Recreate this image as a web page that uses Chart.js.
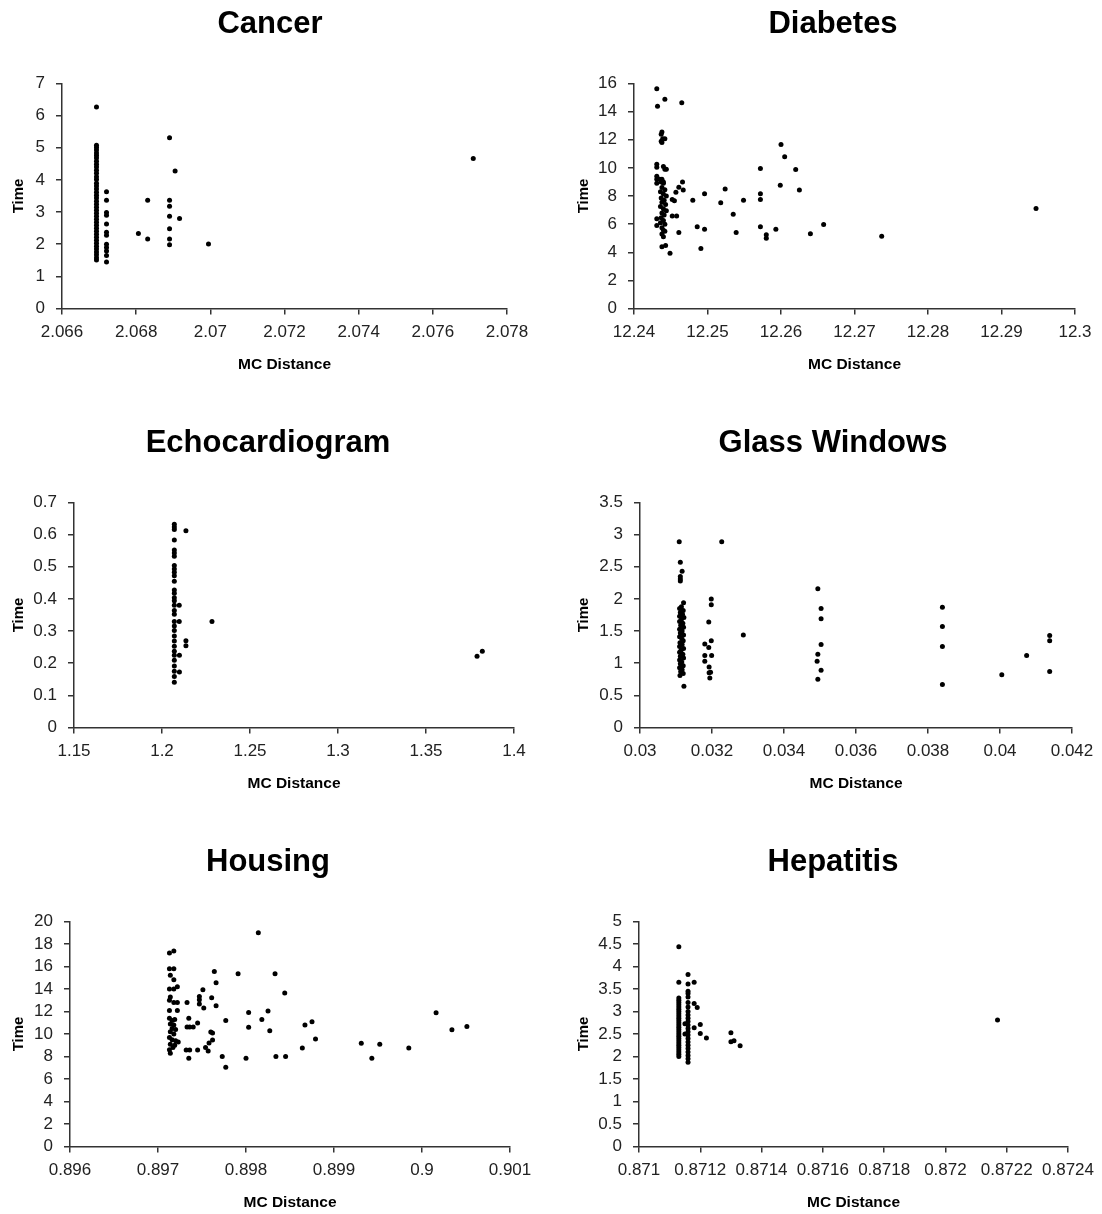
<!DOCTYPE html>
<html>
<head>
<meta charset="utf-8">
<script src="https://cdn.jsdelivr.net/npm/chart.js@4.4.1/dist/chart.umd.min.js"></script>
<style>
  html, body { margin: 0; padding: 0; background: #fff; overflow: hidden; }
  #page { position: relative; width: 1102px; height: 1214px; }
  .cell { position: absolute; width: 551px; height: 376px; }
</style>
</head>
<body>
<div id="page">
  <div class="cell" style="left:0;top:0"><canvas id="c-cancer"></canvas></div>
  <div class="cell" style="left:551px;top:0"><canvas id="c-diabetes"></canvas></div>
  <div class="cell" style="left:0;top:419px"><canvas id="c-echo"></canvas></div>
  <div class="cell" style="left:551px;top:419px"><canvas id="c-glass"></canvas></div>
  <div class="cell" style="left:0;top:838px"><canvas id="c-housing"></canvas></div>
  <div class="cell" style="left:551px;top:838px"><canvas id="c-hepatitis"></canvas></div>
</div>
<script>
// points are [MC Distance, Time]
const cancerPts = [
  [2.06693,6.27],[2.06693,5.08],[2.06693,5.01],[2.06693,4.93],[2.06693,4.84],[2.06693,4.76],[2.06693,4.68],
  [2.06693,4.58],[2.06693,4.49],[2.06693,4.40],[2.06693,4.30],[2.06693,4.21],[2.06693,4.10],[2.06693,4.01],
  [2.06693,3.90],[2.06693,3.81],[2.06693,3.72],[2.06693,3.62],[2.06693,3.52],[2.06693,3.44],[2.06693,3.34],
  [2.06693,3.24],[2.06693,3.15],[2.06693,3.06],[2.06693,2.96],[2.06693,2.87],[2.06693,2.78],[2.06693,2.68],
  [2.06693,2.59],[2.06693,2.50],[2.06693,2.40],[2.06693,2.31],[2.06693,2.22],[2.06693,2.12],[2.06693,2.03],
  [2.06693,1.94],[2.06693,1.85],[2.06693,1.76],[2.06693,1.67],[2.06693,1.58],[2.06693,1.51],
  [2.0672,3.63],[2.0672,3.37],[2.0672,2.99],[2.0672,2.90],[2.0672,2.63],[2.0672,2.37],[2.0672,2.28],
  [2.0672,2.00],[2.0672,1.90],[2.0672,1.79],[2.0672,1.65],[2.0672,1.45],
  [2.06806,2.33],[2.06831,3.37],[2.06831,2.16],[2.0689,5.31],[2.0689,3.37],[2.0689,3.18],[2.0689,2.87],
  [2.0689,2.48],[2.0689,2.16],[2.0689,1.98],[2.06905,4.28],[2.06917,2.80],[2.06995,2.01],[2.07709,4.67]
];

const diabetesPts = [
  [12.2431,15.62],[12.2432,14.38],[12.2442,14.88],[12.2465,14.64],
  [12.2438,12.55],[12.2437,12.40],[12.2439,12.07],[12.2442,12.07],[12.2437,11.90],[12.2438,11.80],
  [12.2431,10.26],[12.2431,10.05],[12.2440,10.10],[12.2442,9.90],[12.2444,9.90],
  [12.2431,9.40],[12.2431,9.20],[12.2435,9.20],[12.2437,9.00],[12.2438,9.20],[12.2440,9.00],[12.2431,8.90],[12.2440,8.90],
  [12.2438,8.60],[12.2442,8.45],[12.2436,8.30],[12.2440,8.15],[12.2444,8.00],[12.2437,7.85],[12.2441,7.70],
  [12.2438,7.55],[12.2443,7.40],[12.2436,7.25],[12.2440,7.10],[12.2444,6.95],[12.2438,6.80],[12.2441,6.65],
  [12.2431,6.38],[12.2437,6.45],[12.2440,6.25],[12.2436,6.10],[12.2442,6.00],[12.2431,5.90],[12.2438,5.75],
  [12.2440,5.57],[12.2442,5.50],[12.2438,5.30],[12.2440,5.10],[12.2438,4.40],[12.2443,4.48],[12.2449,3.93],
  [12.2452,7.76],[12.2455,7.67],[12.2452,6.57],[12.2458,6.57],[12.2461,5.40],[12.2457,8.26],[12.2461,8.62],
  [12.2466,9.00],[12.2467,8.43],
  [12.2480,7.69],[12.2486,5.81],[12.2491,4.26],[12.2496,8.16],[12.2496,5.64],[12.2518,7.52],[12.2524,8.50],
  [12.2535,6.71],[12.2539,5.40],[12.2549,7.69],[12.2572,9.96],[12.2572,8.16],[12.2572,7.76],[12.2572,5.81],
  [12.2580,5.24],[12.2580,5.00],[12.2593,5.64],[12.2599,8.76],[12.2600,11.67],[12.2605,10.79],[12.2620,9.88],
  [12.2625,8.43],[12.2640,5.31],[12.2658,5.98],[12.2737,5.14],[12.2947,7.12]
];

const echoPts = [
  [1.2070,0.632],[1.2070,0.624],[1.2070,0.616],[1.2070,0.583],[1.2070,0.552],[1.2070,0.543],[1.2070,0.533],
  [1.2070,0.504],[1.2070,0.493],[1.2070,0.483],[1.2070,0.472],[1.2070,0.455],[1.2070,0.428],[1.2070,0.418],
  [1.2070,0.404],[1.2070,0.394],[1.2070,0.380],[1.2070,0.364],[1.2070,0.352],[1.2070,0.330],[1.2070,0.316],
  [1.2070,0.302],[1.2070,0.285],[1.2070,0.269],[1.2070,0.253],[1.2070,0.237],[1.2070,0.225],[1.2070,0.209],
  [1.2070,0.191],[1.2070,0.175],[1.2070,0.159],[1.2070,0.141],
  [1.2136,0.612],[1.2098,0.380],[1.2098,0.330],[1.2284,0.330],[1.2136,0.270],[1.2136,0.254],
  [1.2099,0.225],[1.2099,0.173],[1.3790,0.222],[1.3820,0.237]
];

const glassPts = [
  [0.03109,2.89],[0.03112,2.57],[0.03117,2.43],[0.03112,2.35],[0.03112,2.31],[0.03112,2.28],[0.03121,1.94],
  [0.03115,1.88],[0.03110,1.85],[0.03120,1.82],[0.03112,1.79],[0.03118,1.76],[0.03110,1.73],[0.03122,1.71],
  [0.03115,1.68],[0.03110,1.65],[0.03119,1.62],[0.03113,1.59],[0.03121,1.56],[0.03110,1.53],[0.03117,1.50],
  [0.03112,1.47],[0.03121,1.44],[0.03110,1.41],[0.03116,1.38],[0.03120,1.35],[0.03111,1.32],[0.03117,1.29],
  [0.03110,1.26],[0.03121,1.23],[0.03114,1.20],[0.03110,1.17],[0.03119,1.14],[0.03112,1.11],[0.03121,1.08],
  [0.03110,1.05],[0.03116,1.02],[0.03112,0.99],[0.03120,0.96],[0.03110,0.93],[0.03117,0.90],[0.03113,0.87],
  [0.03120,0.84],[0.03111,0.81],[0.03122,0.64],
  [0.03180,1.30],[0.03180,1.12],[0.03180,1.03],[0.03191,1.64],[0.03191,1.245],[0.03192,0.94],[0.03192,0.85],
  [0.03194,0.77],[0.03196,0.86],[0.03198,2.00],[0.03198,1.91],[0.03198,1.35],[0.03199,1.12],
  [0.03227,2.89],[0.03287,1.44],
  [0.03494,2.16],[0.03503,1.85],[0.03503,1.69],[0.03503,1.29],[0.03494,1.14],[0.03492,1.03],[0.03503,0.89],[0.03494,0.75],
  [0.03840,1.87],[0.03840,1.57],[0.03840,1.26],[0.03840,0.67],
  [0.04005,0.82],[0.04074,1.12],[0.04138,1.43],[0.04138,1.35],[0.04138,0.87]
];

const housingPts = [
  [0.89713,17.19],[0.89718,17.37],[0.89713,15.79],[0.89718,15.79],[0.89714,15.23],[0.89718,14.82],
  [0.89713,14.00],[0.89718,14.00],[0.89722,14.20],[0.89714,13.30],[0.89713,13.00],[0.89718,12.80],
  [0.89722,12.80],[0.89713,12.10],[0.89722,12.10],[0.89713,11.40],[0.89716,11.20],[0.89719,11.30],
  [0.89714,10.90],[0.89718,10.80],[0.89716,10.50],[0.89720,10.40],[0.89714,10.20],[0.89718,10.00],
  [0.89713,9.70],[0.89716,9.50],[0.89720,9.40],[0.89723,9.30],[0.89714,9.10],[0.89719,9.00],
  [0.89713,8.60],[0.89717,8.80],[0.89714,8.30],
  [0.89733,12.81],[0.89735,11.39],[0.89733,10.62],[0.89736,10.62],[0.89740,10.62],[0.89732,8.58],
  [0.89736,8.58],[0.89735,7.84],[0.89745,8.58],[0.89745,10.97],[0.89747,13.34],[0.89747,13.04],
  [0.89747,12.66],[0.89751,13.93],[0.89752,12.31],[0.89761,13.22],[0.89760,10.18],[0.89762,10.10],
  [0.89762,9.47],[0.89758,9.20],[0.89754,8.80],[0.89757,8.50],[0.89764,15.56],[0.89766,14.55],
  [0.89766,12.51],[0.89773,7.99],[0.89777,11.21],[0.89777,7.04],[0.89791,15.35],[0.89800,7.84],
  [0.89803,11.92],[0.89803,10.59],[0.89814,18.99],[0.89818,11.30],[0.89825,12.04],[0.89827,10.29],
  [0.89833,15.35],[0.89834,7.99],[0.89844,13.64],[0.89845,7.99],[0.89864,8.76],[0.89867,10.80],
  [0.89875,11.09],[0.89879,9.56],[0.89931,9.17],[0.89943,7.84],[0.89952,9.08],[0.89985,8.76],
  [0.90016,11.89],[0.90034,10.38],[0.90051,10.67]
];

const hepatitisPts = [
  [0.87113,4.44],[0.87113,3.65],[0.87113,3.30],[0.87113,3.25],[0.87113,3.20],[0.87113,3.15],[0.87113,3.10],
  [0.87113,3.05],[0.87113,3.00],[0.87113,2.95],[0.87113,2.90],[0.87113,2.85],[0.87113,2.80],[0.87113,2.75],
  [0.87113,2.70],[0.87113,2.65],[0.87113,2.60],[0.87113,2.55],[0.87113,2.50],[0.87113,2.45],[0.87113,2.40],
  [0.87113,2.35],[0.87113,2.30],[0.87113,2.25],[0.87113,2.20],[0.87113,2.15],[0.87113,2.10],[0.87113,2.05],
  [0.87113,2.00],
  [0.87116,3.82],[0.87116,3.61],[0.87116,3.45],[0.87116,3.40],[0.87116,3.32],[0.87116,3.20],[0.87116,3.10],
  [0.87116,3.00],[0.87116,2.92],[0.87116,2.85],[0.87116,2.78],[0.87116,2.70],[0.87116,2.62],[0.87116,2.55],
  [0.87116,2.48],[0.87116,2.40],[0.87116,2.32],[0.87116,2.25],[0.87116,2.18],[0.87116,2.10],[0.87116,2.02],
  [0.87116,1.95],[0.87116,1.87],
  [0.87118,3.65],[0.87118,3.18],[0.87119,3.09],[0.87118,2.64],[0.87115,2.73],[0.87115,2.50],[0.87120,2.71],
  [0.87120,2.51],[0.87122,2.41],[0.87130,2.53],[0.87130,2.33],[0.87131,2.35],[0.87133,2.24],[0.87217,2.81]
];

// axis ranges: [min, max, step]
const cancerX = [2.066, 2.078, 0.002];
const cancerY = [0, 7, 1];
const diabetesX = [12.24, 12.3, 0.01];
const diabetesY = [0, 16, 2];
const echoX = [1.15, 1.4, 0.05];
const echoY = [0, 0.7, 0.1];
const glassX = [0.03, 0.042, 0.002];
const glassY = [0, 3.5, 0.5];
const housingX = [0.896, 0.901, 0.001];
const housingY = [0, 20, 2];
const hepatitisX = [0.871, 0.8724, 0.0002];
const hepatitisY = [0, 5, 0.5];

const FONT = "'Liberation Sans', Arial, sans-serif";
const fmt = v => String(+Number(v).toFixed(6));

function makeChart(id, title, pts, xr, yr, lay) {
  const ctx = document.getElementById(id).getContext('2d');
  const axisCommon = {
    type: 'linear',
    grid: { drawOnChartArea: false, drawTicks: true, tickLength: 6, color: '#333', lineWidth: 1.5 },
    border: { display: true, color: '#333', width: 1.5 }
  };
  return new Chart(ctx, {
    type: 'scatter',
    data: {
      datasets: [{
        data: pts.map(p => ({ x: p[0], y: p[1] })),
        backgroundColor: '#000',
        borderWidth: 0,
        pointRadius: 2.5,
        pointHoverRadius: 2.5
      }]
    },
    options: {
      responsive: true,
      maintainAspectRatio: false,
      animation: false,
      layout: { padding: { left: lay.padLeft, right: lay.padRight, top: 0, bottom: 0 } },
      plugins: {
        legend: { display: false },
        tooltip: { enabled: false },
        title: {
          display: true,
          text: title,
          color: '#000',
          font: { family: FONT, size: 31, weight: 'bold' },
          padding: { top: 5.5, bottom: 40.8 }
        }
      },
      scales: {
        x: Object.assign({}, axisCommon, {
          min: xr[0], max: xr[1],
          afterFit: s => { s.height = 67.5; },
          ticks: {
            stepSize: xr[2], autoSkip: false, maxRotation: 0, padding: 8,
            color: '#222', font: { family: FONT, size: 17 },
            callback: v => fmt(v)
          },
          title: {
            display: true, text: 'MC Distance', color: '#000',
            font: { family: FONT, size: 15.5, weight: 'bold' }, padding: { top: 2, bottom: 2 }
          }
        }),
        y: Object.assign({}, axisCommon, {
          min: yr[0], max: yr[1],
          afterFit: s => { s.width = lay.yWidth; },
          ticks: {
            stepSize: yr[2], autoSkip: false, padding: 11,
            color: '#222', font: { family: FONT, size: 17 },
            callback: v => fmt(v)
          },
          title: {
            display: true, text: 'Time', color: '#000',
            font: { family: FONT, size: 15, weight: 'bold' }, padding: { top: 4, bottom: 4 }
          }
        }),
        // empty spacer on the right so the title centres like the original
        spacer: {
          type: 'linear', position: 'right', display: true,
          afterFit: s => { s.width = lay.spacer; },
          grid: { display: false }, border: { display: false }, ticks: { display: false }
        }
      }
    }
  });
}

makeChart('c-cancer', 'Cancer', cancerPts, cancerX, cancerY, { padLeft: 6, yWidth: 56, padRight: 17, spacer: 27 });
makeChart('c-diabetes', 'Diabetes', diabetesPts, diabetesX, diabetesY, { padLeft: 20, yWidth: 63, padRight: 7, spacer: 20 });
makeChart('c-echo', 'Echocardiogram', echoPts, echoX, echoY, { padLeft: 6, yWidth: 68, padRight: 21, spacer: 16 });
makeChart('c-glass', 'Glass Windows', glassPts, glassX, glassY, { padLeft: 20, yWidth: 69, padRight: 7, spacer: 23 });
makeChart('c-housing', 'Housing', housingPts, housingX, housingY, { padLeft: 6, yWidth: 64, padRight: 21, spacer: 20 });
makeChart('c-hepatitis', 'Hepatitis', hepatitisPts, hepatitisX, hepatitisY, { padLeft: 20, yWidth: 68, padRight: 7, spacer: 25 });
</script>
</body>
</html>
